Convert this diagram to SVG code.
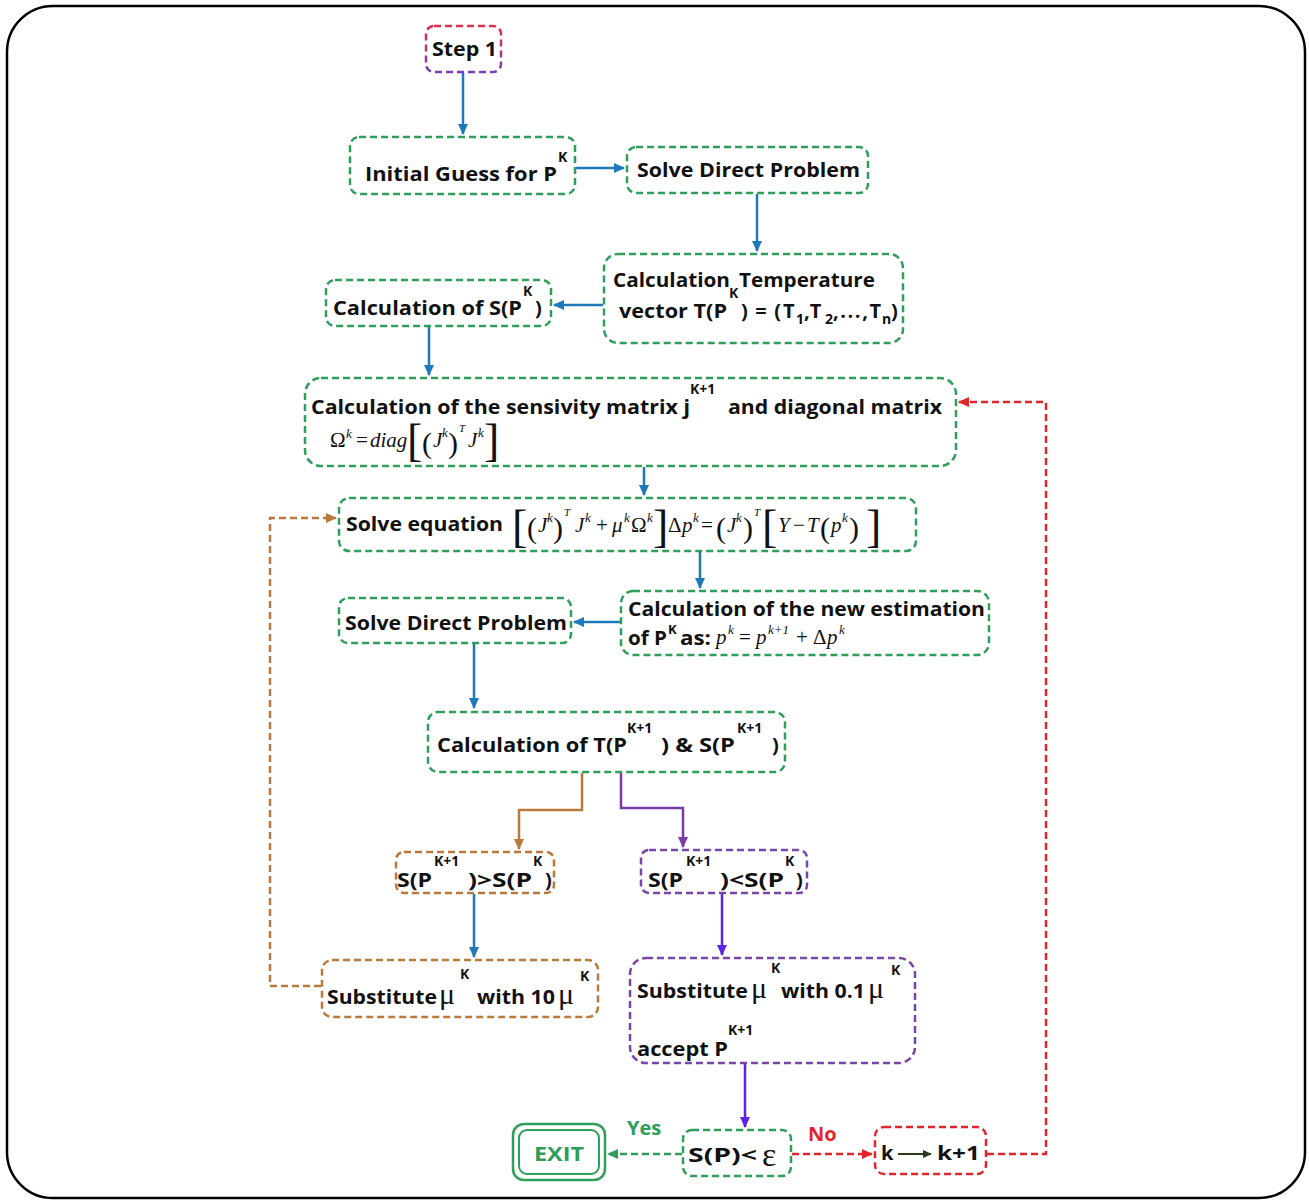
<svg xmlns="http://www.w3.org/2000/svg" width="1309" height="1200" viewBox="0 0 1309 1200">
<style>
.b{font-family:"Open Sans","Liberation Sans",sans-serif;font-weight:bold;font-size:20px;fill:#111}
.s{font-family:"Open Sans","Liberation Sans",sans-serif;font-weight:bold;font-size:14px;fill:#111}
.m{font-family:"Liberation Serif",serif;font-size:21px;fill:#111}
.mi{font-family:"Liberation Serif",serif;font-style:italic;font-size:21px;fill:#111}
.ms{font-family:"Liberation Serif",serif;font-style:italic;font-size:13px;fill:#111}
.mt{font-family:"Liberation Serif",serif;font-style:italic;font-size:11px;fill:#111}
.mu{font-family:"Liberation Serif",serif;font-size:30px;fill:#111}
.bk{font-family:"Liberation Serif",serif;font-size:46px;fill:#111}
.pa{font-family:"Liberation Serif",serif;font-size:30px;fill:#111}
.g{fill:none;stroke:#2e9e5a;stroke-width:2.5;stroke-dasharray:7 4}
.bn{fill:none;stroke:#b97a3c;stroke-width:2.5;stroke-dasharray:7 4}
.pu{fill:none;stroke:#7a45a8;stroke-width:2.5;stroke-dasharray:7 4}
.rd{fill:none;stroke:#e0262c;stroke-width:2.5;stroke-dasharray:7 4}
.cb{fill:none;stroke:#1f78b9;stroke-width:2.5}
.cbn{fill:none;stroke:#b97a3c;stroke-width:2.5}
.cpu{fill:none;stroke:#7a3aa8;stroke-width:2.5}
.cvi{fill:none;stroke:#5d22e6;stroke-width:2.5}
</style>
<defs>
<linearGradient id="stepg" x1="0" y1="0" x2="0" y2="1">
<stop offset="0" stop-color="#e0304a"/><stop offset="1" stop-color="#7440b8"/>
</linearGradient>
<marker id="ab" markerWidth="12" markerHeight="12" refX="10" refY="5" orient="auto" markerUnits="userSpaceOnUse"><path d="M0,0 L11,5 L0,10 z" fill="#1f78b9"/></marker>
<marker id="abn" markerWidth="12" markerHeight="12" refX="10" refY="5" orient="auto" markerUnits="userSpaceOnUse"><path d="M0,0 L11,5 L0,10 z" fill="#b97a3c"/></marker>
<marker id="apu" markerWidth="12" markerHeight="12" refX="10" refY="5" orient="auto" markerUnits="userSpaceOnUse"><path d="M0,0 L11,5 L0,10 z" fill="#7a3aa8"/></marker>
<marker id="avi" markerWidth="12" markerHeight="12" refX="10" refY="5" orient="auto" markerUnits="userSpaceOnUse"><path d="M0,0 L11,5 L0,10 z" fill="#5d22e6"/></marker>
<marker id="ard" markerWidth="12" markerHeight="12" refX="10" refY="5" orient="auto" markerUnits="userSpaceOnUse"><path d="M0,0 L11,5 L0,10 z" fill="#e0262c"/></marker>
<marker id="agr" markerWidth="12" markerHeight="12" refX="10" refY="5" orient="auto" markerUnits="userSpaceOnUse"><path d="M0,0 L11,5 L0,10 z" fill="#2e9e5a"/></marker>
<marker id="adk" markerWidth="10" markerHeight="10" refX="8" refY="4" orient="auto" markerUnits="userSpaceOnUse"><path d="M0,0 L9,4 L0,8 z" fill="#2a3a1a"/></marker>
</defs>
<rect x="7" y="6" width="1298" height="1192" rx="46" fill="#fff" stroke="#000" stroke-width="2.5"/>

<g id="connectors">
<path class="cb" d="M463,73 V134" marker-end="url(#ab)"/>
<path class="cb" d="M576,168 H624" marker-end="url(#ab)"/>
<path class="cb" d="M757,194 V251" marker-end="url(#ab)"/>
<path class="cb" d="M603,305 H554" marker-end="url(#ab)"/>
<path class="cb" d="M429,327 V375" marker-end="url(#ab)"/>
<path class="cb" d="M644,467 V495" marker-end="url(#ab)"/>
<path class="cb" d="M700,552 V588" marker-end="url(#ab)"/>
<path class="cb" d="M620,622 H574" marker-end="url(#ab)"/>
<path class="cb" d="M474,644 V708" marker-end="url(#ab)"/>
<path class="cbn" d="M582,773 V810 H519 V849" marker-end="url(#abn)"/>
<path class="cpu" d="M621,773 V808 H683 V847" marker-end="url(#apu)"/>
<path class="cb" d="M474,894 V957" marker-end="url(#ab)"/>
<path class="cvi" d="M722,894 V955" marker-end="url(#avi)"/>
<path class="cvi" d="M745,1064 V1127" marker-end="url(#avi)"/>
<path class="g" d="M682,1154 H608" marker-end="url(#agr)"/>
<path class="rd" d="M792,1154 H872" marker-end="url(#ard)"/>
<path class="rd" d="M987,1154 H1046 V402 H959" marker-end="url(#ard)"/>
<path class="bn" d="M321,986 H270 V518 H336" marker-end="url(#abn)"/>
<text x="627" y="1135" class="b" style="fill:#2e9e5a">Yes</text>
<text x="808" y="1141" class="b" style="fill:#e0262c">No</text>
</g>

<g id="step1">
<rect x="426" y="26" width="75" height="46" rx="8" fill="none" stroke="url(#stepg)" stroke-width="2.5" stroke-dasharray="7 4"/>
<text x="432" y="56" class="b" textLength="65" lengthAdjust="spacingAndGlyphs">Step 1</text>
</g>

<g id="initial-guess">
<rect x="350" y="137" width="225" height="57" rx="9" class="g"/>
<text x="365" y="181" class="b" textLength="192" lengthAdjust="spacingAndGlyphs">Initial Guess for P</text>
<text x="558" y="162" class="s">K</text>
</g>

<g id="solve-direct-1">
<rect x="627" y="147" width="241" height="46" rx="9" class="g"/>
<text x="637" y="177" class="b" textLength="223" lengthAdjust="spacingAndGlyphs">Solve Direct Problem</text>
</g>

<g id="calc-temp">
<rect x="604" y="254" width="299" height="89" rx="14" class="g"/>
<text x="613" y="287" class="b" textLength="117" lengthAdjust="spacingAndGlyphs">Calculation</text>
<text x="739" y="287" class="b" textLength="136" lengthAdjust="spacingAndGlyphs">Temperature</text>
<text x="729" y="298" class="s">K</text>
<text x="619" y="318" class="b" textLength="108" lengthAdjust="spacingAndGlyphs">vector T(P</text>
<text x="741" y="318" class="b" textLength="40" lengthAdjust="spacing">)=(</text>
<text x="783" y="318" class="b">T</text>
<text x="796" y="324" class="s">1</text>
<text x="804" y="318" class="b">,T</text>
<text x="825" y="324" class="s">2</text>
<text x="833" y="318" class="b" textLength="48" lengthAdjust="spacing">,...,T</text>
<text x="882" y="324" class="s">n</text>
<text x="891" y="318" class="b">)</text>
</g>

<g id="calc-s">
<rect x="326" y="280" width="225" height="46" rx="9" class="g"/>
<text x="333" y="315" class="b" textLength="189" lengthAdjust="spacingAndGlyphs">Calculation of S(P</text>
<text x="523" y="296" class="s">K</text>
<text x="535" y="315" class="b">)</text>
</g>

<g id="sensitivity">
<rect x="305" y="378" width="651" height="88" rx="16" class="g"/>
<text x="311" y="414" class="b" textLength="379" lengthAdjust="spacingAndGlyphs">Calculation of the sensivity matrix j</text>
<text x="690" y="394" class="s">K+1</text>
<text x="728" y="414" class="b" textLength="214" lengthAdjust="spacingAndGlyphs">and diagonal matrix</text>
<text x="330" y="447" class="m">Ω</text>
<text x="346" y="438" class="ms">k</text>
<text x="356" y="447" class="m">=</text>
<text x="370" y="447" class="mi">diag</text>
<text x="407" y="456" class="bk">[</text>
<text x="422" y="453" class="pa">(</text>
<text x="433" y="447" class="mi">J</text>
<text x="442" y="437" class="ms">k</text>
<text x="448" y="453" class="pa">)</text>
<text x="459" y="432" class="mt">T</text>
<text x="468" y="447" class="mi">J</text>
<text x="478" y="437" class="ms">k</text>
<text x="484" y="456" class="bk">]</text>
</g>

<g id="solve-equation">
<rect x="339" y="498" width="577" height="53" rx="10" class="g"/>
<text x="346" y="531" class="b" textLength="157" lengthAdjust="spacingAndGlyphs">Solve equation</text>
<text x="512" y="542" class="bk">[</text>
<text x="527" y="538" class="pa">(</text>
<text x="538" y="532" class="mi">J</text>
<text x="547" y="522" class="ms">k</text>
<text x="553" y="538" class="pa">)</text>
<text x="564" y="516" class="mt">T</text>
<text x="575" y="532" class="mi">J</text>
<text x="585" y="522" class="ms">k</text>
<text x="596" y="532" class="m">+</text>
<text x="612" y="532" class="mi">μ</text>
<text x="624" y="522" class="ms">k</text>
<text x="631" y="532" class="m">Ω</text>
<text x="647" y="522" class="ms">k</text>
<text x="653" y="542" class="bk">]</text>
<text x="668" y="532" class="m">Δ</text>
<text x="682" y="532" class="mi">p</text>
<text x="693" y="522" class="ms">k</text>
<text x="701" y="532" class="m">=</text>
<text x="716" y="538" class="pa">(</text>
<text x="727" y="532" class="mi">J</text>
<text x="736" y="522" class="ms">k</text>
<text x="743" y="538" class="pa">)</text>
<text x="754" y="516" class="mt">T</text>
<text x="762" y="542" class="bk">[</text>
<text x="778" y="532" class="mi">Y</text>
<text x="793" y="532" class="m">−</text>
<text x="807" y="532" class="mi">T</text>
<text x="820" y="538" class="pa">(</text>
<text x="831" y="532" class="mi">p</text>
<text x="842" y="522" class="ms">k</text>
<text x="849" y="538" class="pa">)</text>
<text x="866" y="542" class="bk">]</text>
</g>

<g id="new-estimation">
<rect x="621" y="591" width="368" height="64" rx="12" class="g"/>
<text x="628" y="616" class="b" textLength="357" lengthAdjust="spacingAndGlyphs">Calculation of the new estimation</text>
<text x="628" y="645" class="b" textLength="39" lengthAdjust="spacingAndGlyphs">of P</text>
<text x="668" y="634" class="s" style="font-size:13px">K</text>
<text x="680" y="645" class="b" textLength="31" lengthAdjust="spacingAndGlyphs">as:</text>
<text x="716" y="644" class="mi">p</text>
<text x="728" y="634" class="ms">k</text>
<text x="739" y="644" class="m">=</text>
<text x="756" y="644" class="mi">p</text>
<text x="768" y="634" class="ms">k+1</text>
<text x="796" y="644" class="m">+</text>
<text x="813" y="644" class="m">Δ</text>
<text x="827" y="644" class="mi">p</text>
<text x="839" y="634" class="ms">k</text>
</g>

<g id="solve-direct-2">
<rect x="339" y="598" width="232" height="45" rx="9" class="g"/>
<text x="345" y="630" class="b" textLength="222" lengthAdjust="spacingAndGlyphs">Solve Direct Problem</text>
</g>

<g id="calc-ts">
<rect x="428" y="712" width="357" height="60" rx="10" class="g"/>
<text x="437" y="752" class="b" textLength="190" lengthAdjust="spacingAndGlyphs">Calculation of T(P</text>
<text x="627" y="733" class="s">K+1</text>
<text x="661" y="752" class="b" textLength="74" lengthAdjust="spacingAndGlyphs">) &amp; S(P</text>
<text x="737" y="733" class="s">K+1</text>
<text x="772" y="752" class="b">)</text>
</g>

<g id="s-greater">
<rect x="396" y="852" width="158" height="41" rx="8" class="bn"/>
<text x="397" y="887" class="b" textLength="35" lengthAdjust="spacingAndGlyphs">S(P</text>
<text x="434" y="866" class="s">K+1</text>
<text x="468" y="887" class="b" textLength="64" lengthAdjust="spacingAndGlyphs">)&gt;S(P</text>
<text x="533" y="866" class="s">K</text>
<text x="545" y="887" class="b">)</text>
</g>

<g id="s-less">
<rect x="641" y="850" width="166" height="43" rx="8" class="pu"/>
<text x="648" y="887" class="b" textLength="35" lengthAdjust="spacingAndGlyphs">S(P</text>
<text x="686" y="866" class="s">K+1</text>
<text x="720" y="887" class="b" textLength="64" lengthAdjust="spacingAndGlyphs">)&lt;S(P</text>
<text x="785" y="866" class="s">K</text>
<text x="796" y="887" class="b">)</text>
</g>

<g id="substitute-10">
<rect x="322" y="960" width="276" height="57" rx="10" class="bn"/>
<text x="327" y="1004" class="b" textLength="110" lengthAdjust="spacingAndGlyphs">Substitute</text>
<text x="439" y="1004" class="mu">μ</text>
<text x="460" y="979" class="s">K</text>
<text x="477" y="1004" class="b" textLength="78" lengthAdjust="spacingAndGlyphs">with 10</text>
<text x="558" y="1004" class="mu">μ</text>
<text x="580" y="981" class="s">K</text>
</g>

<g id="substitute-01">
<rect x="630" y="958" width="285" height="105" rx="16" class="pu"/>
<text x="637" y="998" class="b" textLength="111" lengthAdjust="spacingAndGlyphs">Substitute</text>
<text x="751" y="998" class="mu">μ</text>
<text x="771" y="973" class="s">K</text>
<text x="781" y="998" class="b" textLength="84" lengthAdjust="spacingAndGlyphs">with 0.1</text>
<text x="868" y="998" class="mu">μ</text>
<text x="891" y="975" class="s">K</text>
<text x="637" y="1056" class="b" textLength="91" lengthAdjust="spacingAndGlyphs">accept P</text>
<text x="728" y="1035" class="s">K+1</text>
</g>

<g id="check">
<rect x="683" y="1130" width="108" height="46" rx="9" class="g"/>
<text x="688" y="1162" class="b" textLength="69" lengthAdjust="spacingAndGlyphs">S(P)&lt;</text>
<text x="762" y="1166" class="m" style="font-size:34px">ε</text>
</g>

<g id="exit">
<rect x="513" y="1124" width="92" height="56" rx="11" fill="none" stroke="#2e9e5a" stroke-width="2.5"/>
<rect x="519" y="1130" width="80" height="44" rx="8" fill="none" stroke="#2e9e5a" stroke-width="2"/>
<text x="559" y="1161" class="b" text-anchor="middle" style="fill:#2e9e5a" textLength="50" lengthAdjust="spacingAndGlyphs">EXIT</text>
</g>

<g id="increment">
<rect x="875" y="1127" width="111" height="47" rx="9" class="rd"/>
<text x="881" y="1160" class="b">k</text>
<path d="M898,1154 H931" stroke="#2a3a1a" stroke-width="2" fill="none" marker-end="url(#adk)"/>
<text x="937" y="1160" class="b" textLength="43" lengthAdjust="spacingAndGlyphs">k+1</text>
</g>
</svg>
